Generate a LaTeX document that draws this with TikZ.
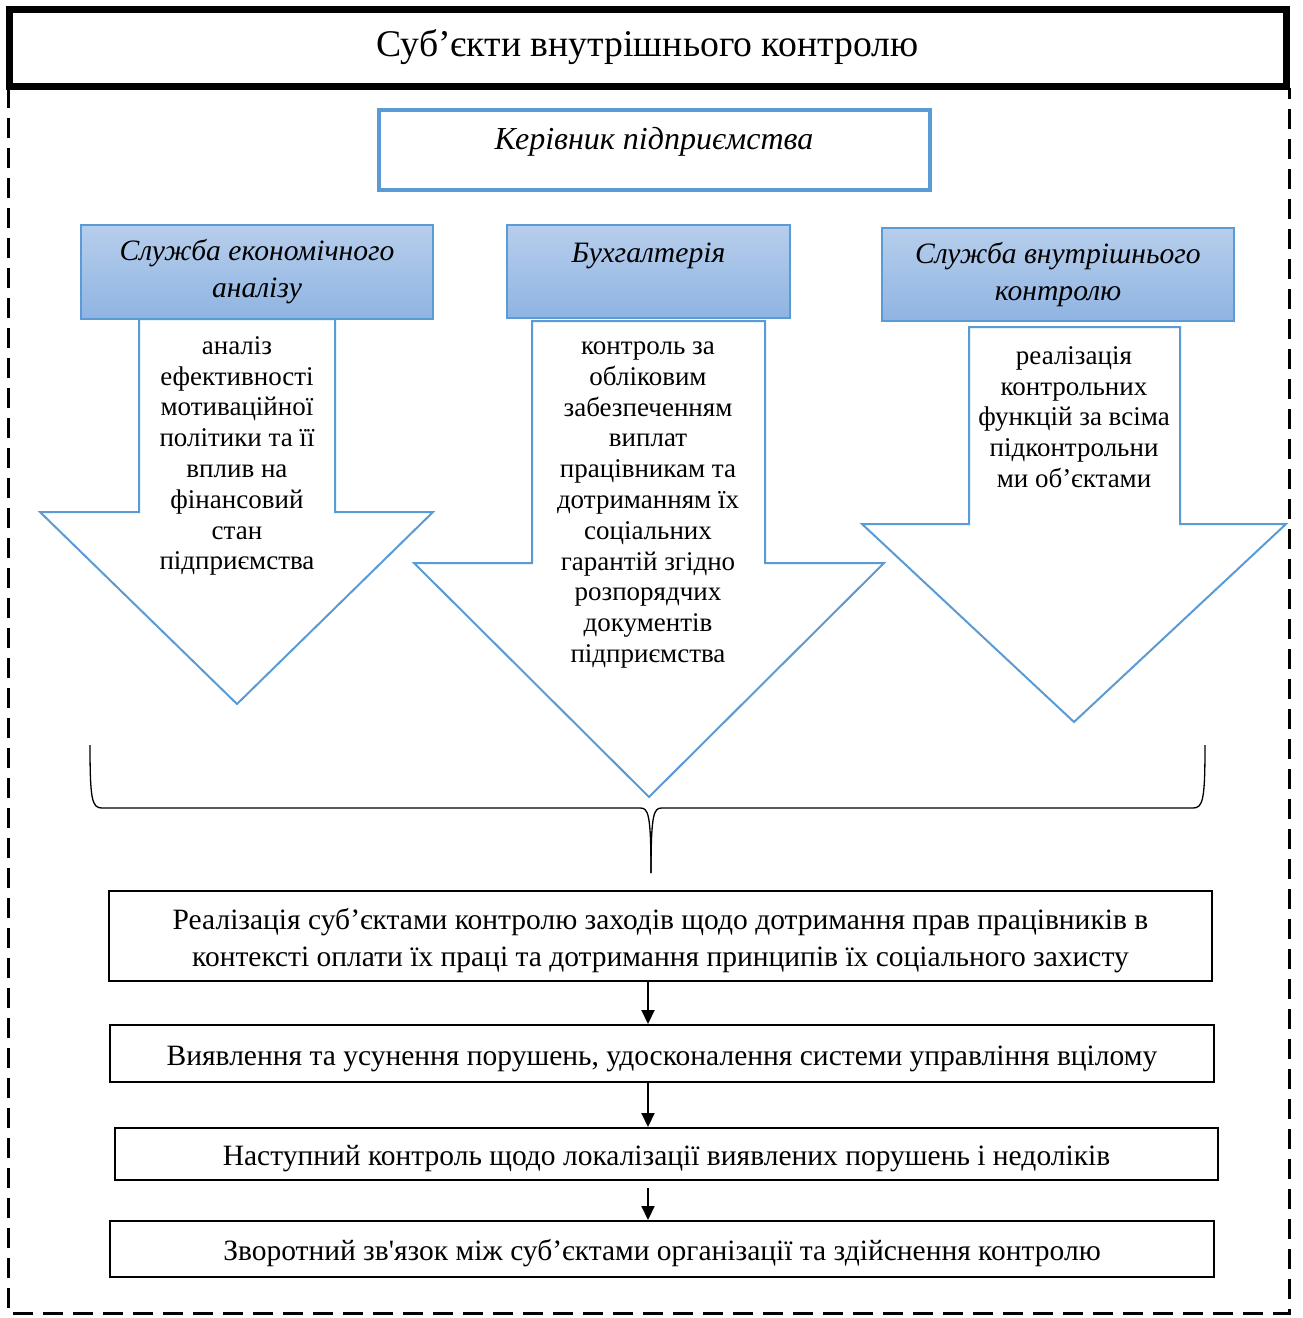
\documentclass[tikz,border=0pt]{standalone}
\usepackage{fontspec}
\setmainfont{Liberation Serif}[Ligatures=TeXOff]
\usetikzlibrary{arrows.meta}
\definecolor{bblue}{RGB}{91,155,213}
\definecolor{gtop}{RGB}{183,206,236}
\definecolor{gbot}{RGB}{143,180,226}
\begin{document}
\begin{tikzpicture}[x=1pt,y=-1pt,
  titlebox/.style={draw=black, line width=7pt, fill=white, inner sep=0pt,
    font=\fontsize{37.7}{42}\selectfont},
  kerbox/.style={draw=bblue, line width=4pt, fill=white, inner sep=0pt},
  kertext/.style={font=\fontsize{32}{36}\selectfont\itshape, inner sep=0pt},
  hdr/.style={draw=bblue, line width=1.2pt, top color=gtop, bottom color=gbot,
    inner sep=0pt, align=center, font=\fontsize{29.6}{37}\selectfont\itshape},
  arr/.style={draw=bblue, line width=2pt, fill=white, line join=miter},
  arrtext/.style={font=\fontsize{27}{30.8}\selectfont, align=center, inner sep=0pt},
  stepbox/.style={draw=black, line width=2pt, fill=white, inner sep=0pt,
    align=center, font=\fontsize{29.5}{37}\selectfont},
  flow/.style={-{Triangle[length=14pt,width=13pt]}, line width=2pt},
  frame/.style={line width=3pt, dash pattern=on 20pt off 10pt},
  bracepath/.style={line width=1.3pt}
]
\useasboundingbox (0,0) rectangle (1302,1318);
\fill[white] (0,0) rectangle (1302,1318);

% outer dashed frame
\draw[frame] (8,88) -- (8,1313) -- (1289,1313) -- (1289,88);

% title
\node[titlebox, minimum width=1277pt, minimum height=77pt] (title) at (647.5,47.5)
  {Суб’єкти внутрішнього контролю};

% head of enterprise
\node[kerbox, minimum width=551pt, minimum height=80pt] (ker) at (654.5,150) {};
\node[kertext] (kert) at (654,142) {Керівник підприємства};

% three services
\node[hdr, minimum width=352pt, minimum height=94pt] (h1) at (257,272)
  {Служба економічного\\аналізу};
\node[hdr, minimum width=283pt, minimum height=93pt] (h2) at (648.5,271.5)
  {Бухгалтерія\\~};
\node[hdr, minimum width=352pt, minimum height=93pt] (h3) at (1058,274.5)
  {Служба внутрішнього\\контролю};

% block arrows
\draw[arr] (139,319) -- (335,319) -- (335,512) -- (433,512) -- (237,704)
  -- (40,512) -- (139,512) -- cycle;
\draw[arr] (532,321) -- (765,321) -- (765,563) -- (884,563) -- (649,797)
  -- (414,563) -- (532,563) -- cycle;
\draw[arr] (969,327) -- (1180,327) -- (1180,524) -- (1286,524) -- (1074,722)
  -- (862,524) -- (969,524) -- cycle;

\node[arrtext] (a1) at (237,456)
  {аналіз\\ефективності\\мотиваційної\\політики та її\\вплив на\\фінансовий\\стан\\підприємства};
\node[arrtext] (a2) at (648,505)
  {контроль за\\обліковим\\забезпеченням\\виплат\\працівникам та\\дотриманням їх\\соціальних\\гарантій згідно\\розпорядчих\\документів\\підприємства};
\node[arrtext] (a3) at (1074,417)
  {реалізація\\контрольних\\функцій за всіма\\підконтрольни\\ми об’єктами};

% brace
\coordinate (bl) at (90,745);
\coordinate (br) at (1205,745);
\coordinate (bm) at (651,873);
\draw[bracepath] (bl) .. controls (90,800) and (92,808) .. (102,808) -- (640,808)
  .. controls (648,808) and (651,812) .. (bm);
\draw[bracepath] (br) .. controls (1205,800) and (1203,808) .. (1193,808) -- (662,808)
  .. controls (654,808) and (651,812) .. (bm);

% bottom chain
\node[stepbox, minimum width=1103pt, minimum height=90pt] (b1) at (660.5,936)
  {\rule{0pt}{31pt}Реалізація суб’єктами контролю заходів щодо дотримання прав працівників в\\
   контексті оплати їх праці та дотримання принципів їх соціального захисту};
\node[stepbox, minimum width=1104pt, minimum height=57pt] (b2) at (662,1053.5)
  {\rule{0pt}{30pt}Виявлення та усунення порушень, удосконалення системи управління вцілому};
\node[stepbox, minimum width=1103pt, minimum height=52pt] (b3) at (666.5,1154)
  {\rule{0pt}{30pt}Наступний контроль щодо локалізації виявлених порушень і недоліків};
\node[stepbox, minimum width=1104pt, minimum height=56pt] (b4) at (662,1249)
  {\rule{0pt}{29pt}Зворотний зв'язок між суб’єктами організації та здійснення контролю};

\coordinate (ax) at (648,0);
\draw[flow] (b1.south -| ax) -- (b2.north -| ax);
\draw[flow] (b2.south -| ax) -- (b3.north -| ax);
\draw[flow, shorten <=7pt] (b3.south -| ax) -- (b4.north -| ax);
\end{tikzpicture}
\end{document}
